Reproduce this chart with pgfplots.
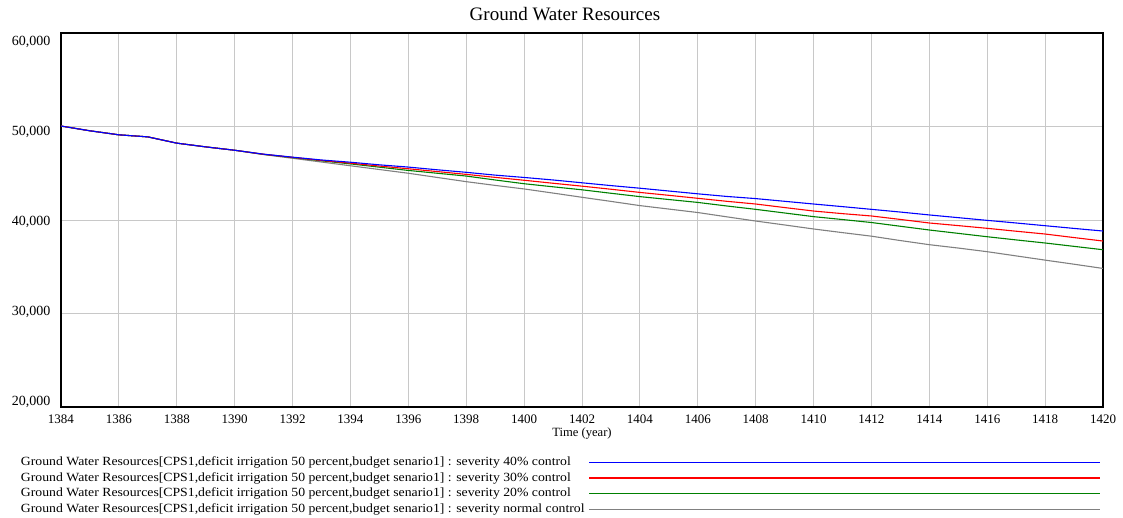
\documentclass[border=0pt]{standalone}
\usepackage{fontspec}
\setmainfont{Liberation Serif}
\newfontfamily\legfont[FakeStretch=1.1]{Liberation Serif}
\usepackage{pgfplots}
\pgfplotsset{compat=1.18}
\usepackage{pgfplotstable}
\pgfplotstableread{
year b r g k
1384 50050 50050 50050 50050
1385 49540 49540 49540 49540
1386 49110 49110 49110 49110
1387 48890 48890 48890 48890
1388 48220 48220 48220 48220
1389 47820 47820 47820 47820
1390 47460 47460 47460 47460
1391 47040 47030 47020 47000
1392 46720 46700 46680 46600
1393 46420 46370 46330 46200
1394 46180 46080 46000 45800
1395 45900 45770 45650 45400
1396 45660 45480 45300 45000
1397 45370 45180 45000 44550
1398 45100 44880 44700 44100
1399 44800 44560 44280 43700
1400 44550 44250 43880 43320
1401 44280 43930 43550 42880
1402 43980 43620 43230 42430
1403 43680 43290 42860 41990
1404 43400 42950 42500 41540
1405 43100 42640 42190 41170
1406 42800 42320 41880 40800
1407 42520 42000 41500 40340
1408 42290 41710 41140 39890
1409 42000 41330 40750 39470
1410 41710 40960 40360 39040
1411 41430 40680 40050 38650
1412 41140 40430 39730 38270
1413 40850 40060 39330 37800
1414 40540 39680 38930 37360
1415 40250 39400 38570 37000
1416 39960 39110 38210 36610
1417 39680 38800 37870 36160
1418 39390 38500 37540 35710
1419 39100 38120 37180 35270
1420 38820 37750 36820 34820
}\data
\definecolor{gridc}{RGB}{200,200,200}
\definecolor{vgreen}{RGB}{0,128,0}
\definecolor{vgray}{RGB}{128,128,128}
\begin{document}
\begin{tikzpicture}
\useasboundingbox (0,0) rectangle (1123pt,517pt);
\begin{axis}[
  at={(61pt,110pt)}, anchor=south west,
  scale only axis, width=1042pt, height=374pt,
  xmin=1384, xmax=1420, ymin=20000, ymax=60000,
  xtick={1384,1386,...,1420}, ytick={20000,30000,...,60000},
  scaled y ticks=false,
  /pgf/number format/assume math mode=true,
  xticklabel style={/pgf/number format/1000 sep={}, font=\fontsize{13}{15}\selectfont, anchor=base, inner sep=0pt, yshift=-16pt},
  yticklabel style={/pgf/number format/1000 sep={,}, font=\fontsize{14}{16}\selectfont, anchor=base east, inner sep=0pt, xshift=-10.5pt, yshift=1.6pt-3.5pt*\ticknum},
  major tick length=0pt,
  grid=major,
  major grid style={gridc, line width=1pt},
  axis line style={black, line width=1.5pt},
  title={Ground Water Resources},
  title style={font=\fontsize{19}{21}\selectfont, at={(0.5,1)}, anchor=base, inner sep=0pt, yshift=6pt, xshift=-17pt},
  xlabel={Time (year)},
  xlabel style={font=\fontsize{12.6}{14}\selectfont, at={(0.5,0)}, anchor=base, inner sep=0pt, yshift=-29pt},
  reverse legend,
  legend plot pos=right,
  legend cell align=left,
  legend image code/.code={\path (0pt,0pt); \draw[#1, line width=1.4pt] (4pt,0pt) -- (515pt,0pt);},
  legend style={at={(-0.0384,-0.1318)}, anchor=north west, draw=none, fill=none, inner sep=0pt, outer sep=0pt,
    font=\legfont\fontsize{12.5}{14}\selectfont,
    nodes={inner sep=0pt, text height=9pt, text depth=3pt},
    row sep=3.7pt},
]
\addplot[vgray, line width=1.1pt] table[x=year, y=k] {\data};
\addlegendentry{Ground Water Resources[CPS1,deficit irrigation 50 percent,budget senario1] : severity normal control}
\addplot[vgreen, line width=1.1pt] table[x=year, y=g] {\data};
\addlegendentry{Ground Water Resources[CPS1,deficit irrigation 50 percent,budget senario1] : severity 20\% control}
\addplot[red, line width=1.1pt] table[x=year, y=r] {\data};
\addlegendentry{Ground Water Resources[CPS1,deficit irrigation 50 percent,budget senario1] : severity 30\% control}
\addplot[blue, line width=1.1pt] table[x=year, y=b] {\data};
\addlegendentry{Ground Water Resources[CPS1,deficit irrigation 50 percent,budget senario1] : severity 40\% control}
\end{axis}
\end{tikzpicture}
\end{document}
